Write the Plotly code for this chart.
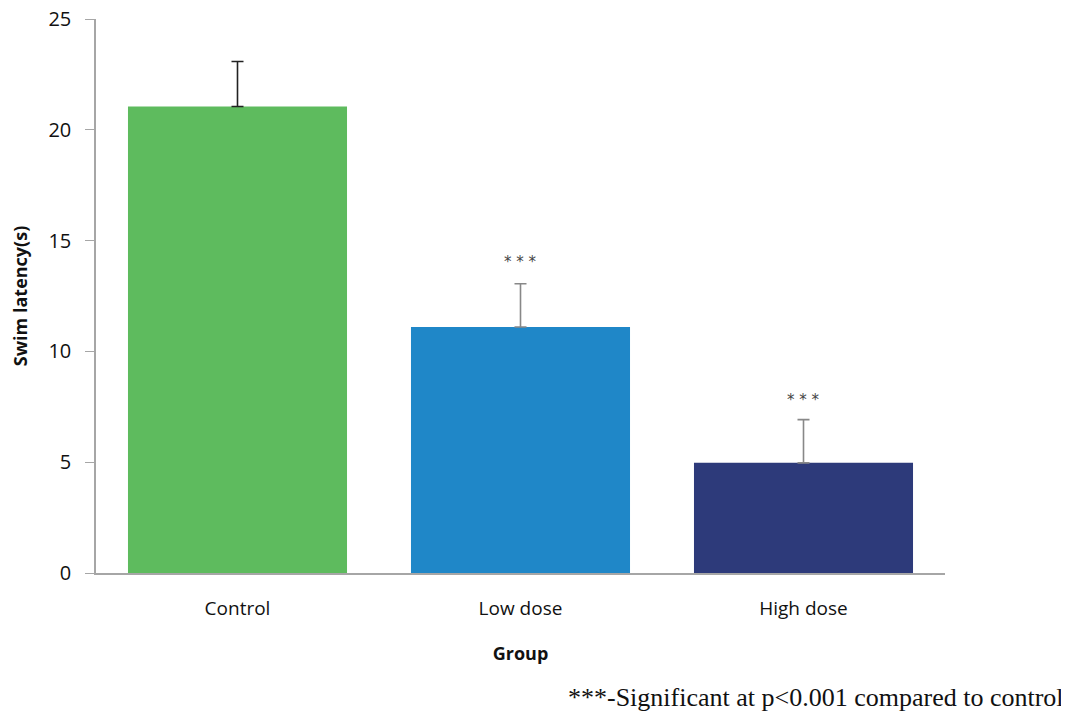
import plotly.graph_objects as go

groups = ["Control", "Low dose", "High dose"]
means = [21.05, 11.1, 4.97]
errors = [2.03, 1.95, 1.95]
bar_colors = ["#5EBB5E", "#1F87C8", "#2D3A7A"]
err_colors = ["#222222", "#888888", "#888888"]
sig_labels = ["", "* * *", "* * *"]
sig_y = [None, 14.05, 7.8]
footnote = "***-Significant at p<0.001 compared to control"

fig = go.Figure()
for g, m, e, bc, ec in zip(groups, means, errors, bar_colors, err_colors):
    fig.add_trace(go.Bar(
        x=[g], y=[m], marker=dict(color=bc, line=dict(width=0)),
        error_y=dict(type="data", array=[e], symmetric=False, arrayminus=[0],
                     color=ec, thickness=1.6, width=6),
        showlegend=False,
    ))

for g, s, yv in zip(groups, sig_labels, sig_y):
    if s:
        fig.add_annotation(x=g, y=yv, text=s, showarrow=False,
                           font=dict(family="DejaVu Sans", size=15, color="#444444"),
                           yanchor="middle")

fig.add_annotation(x=1, xref="paper", xanchor="right", y=-0.224, yref="paper",
                   yanchor="middle", text=footnote, showarrow=False, xshift=121,
                   font=dict(family="Liberation Serif", size=26, color="#111111"))

fig.update_layout(
    width=1061, height=705,
    margin=dict(l=88, r=124, t=11, b=140, autoexpand=False),
    plot_bgcolor="white", paper_bgcolor="white",
    barmode="overlay", bargap=0.226,
    font=dict(family="Open Sans", color="#111111"),
)
fig.update_xaxes(
    automargin=False,
    showline=True, linecolor="#A6A6A6", linewidth=1.5,
    ticks="", showgrid=False,
    tickfont=dict(family="Open Sans", size=19),
    title=dict(text="<b>Group</b>", font=dict(family="Open Sans", size=18), standoff=28),
    ticklabelstandoff=17,
)
fig.update_yaxes(
    automargin=False,
    range=[0, 25], tickvals=[0, 5, 10, 15, 20, 25],
    showline=True, linecolor="#A6A6A6", linewidth=1.5,
    ticks="outside", ticklen=9, tickcolor="#A6A6A6", showgrid=False, zeroline=False,
    tickfont=dict(family="Open Sans", size=20), ticklabelstandoff=10,
    ticklabeloverflow="allow",
    title=dict(text="<b>Swim latency(s)</b>", font=dict(family="Open Sans", size=18), standoff=20),
)

fig.write_html("out.html")
